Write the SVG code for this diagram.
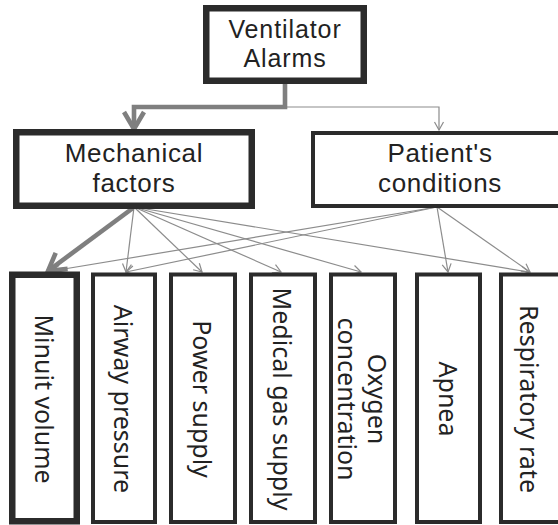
<svg xmlns="http://www.w3.org/2000/svg" width="558" height="525" viewBox="0 0 558 525">
  <style>
    .box { fill: #ffffff; stroke: #2b2b2b; }
    .heavy { stroke-width: 6.5; }
    .mid { stroke-width: 4; }
    .label { font-family: "Noto Sans", "Liberation Sans", sans-serif; fill: #222222; text-anchor: middle; }
    .head { font-family: "Liberation Sans", Arial, sans-serif; }
    .top { font-size: 25px; letter-spacing: 0.9px; }
    .mid-label { font-size: 26px; letter-spacing: 0.7px; }
    .vert { font-size: 25px; dominant-baseline: central; }
    .link { fill: none; stroke: #8c8c8c; stroke-width: 1.2; }
    .link-main { fill: none; stroke: #7f7f7f; stroke-width: 4.6; stroke-linejoin: miter; }
  </style>
  <defs>
    <marker id="arrow-thin" viewBox="-10 -6 12 12" refX="0" refY="0" markerWidth="12" markerHeight="12" markerUnits="userSpaceOnUse" orient="auto">
      <path d="M-8,-4.5 L0,0 L-8,4.5" fill="none" stroke="#8c8c8c" stroke-width="1.2"/>
    </marker>
    <marker id="arrow-thick" viewBox="-24 -14 28 28" refX="0" refY="0" markerWidth="28" markerHeight="28" markerUnits="userSpaceOnUse" orient="auto">
      <path d="M-17,-10 L0,0 L-17,10" fill="none" stroke="#7f7f7f" stroke-width="4.6"/>
    </marker>
  </defs>

  <rect width="558" height="525" fill="#ffffff"/>

  <!-- connectors -->
  <g id="connectors">
    <path class="link" d="M285,107 H439 V130" marker-end="url(#arrow-thin)"/>
    <path class="link-main" d="M285,83 V107 H134 V129" marker-end="url(#arrow-thick)"/>

    <!-- from Patient's conditions -->
    <line class="link" x1="437" y1="207" x2="52" y2="271" marker-end="url(#arrow-thin)"/>
    <line class="link" x1="437" y1="207" x2="126" y2="272" marker-end="url(#arrow-thin)"/>
    <line class="link" x1="437" y1="207" x2="448" y2="272" marker-end="url(#arrow-thin)"/>
    <line class="link" x1="437" y1="207" x2="530" y2="272" marker-end="url(#arrow-thin)"/>

    <!-- from Mechanical factors -->
    <line class="link" x1="134" y1="207" x2="126" y2="272" marker-end="url(#arrow-thin)"/>
    <line class="link" x1="134" y1="207" x2="202" y2="272" marker-end="url(#arrow-thin)"/>
    <line class="link" x1="134" y1="207" x2="281" y2="272" marker-end="url(#arrow-thin)"/>
    <line class="link" x1="134" y1="207" x2="361" y2="272" marker-end="url(#arrow-thin)"/>
    <line class="link" x1="134" y1="207" x2="529" y2="272" marker-end="url(#arrow-thin)"/>
    <line class="link-main" x1="133" y1="208" x2="48" y2="271" marker-end="url(#arrow-thick)"/>
  </g>

  <g id="ventilator-alarms">
    <rect class="box heavy" x="206.25" y="8.25" width="157.5" height="72.5"/>
    <text class="label head top"><tspan x="285" y="37.5">Ventilator</tspan><tspan x="285" dy="29.5">Alarms</tspan></text>
  </g>

  <g id="mechanical-factors">
    <rect class="box heavy" x="16.25" y="132.25" width="235.5" height="73.5"/>
    <text class="label head mid-label"><tspan x="134" y="161.5">Mechanical</tspan><tspan x="134" dy="30.5">factors</tspan></text>
  </g>

  <g id="patients-conditions">
    <rect class="box mid" x="313" y="133" width="254" height="73"/>
    <text class="label head mid-label"><tspan x="440" y="162">Patient's</tspan><tspan x="440" dy="30">conditions</tspan></text>
  </g>

  <g id="minuit-volume">
    <rect class="box heavy" x="12.25" y="274.75" width="64.5" height="246.5"/>
    <text class="label vert" x="45" y="399" transform="rotate(90 45 399)">Minuit volume</text>
  </g>

  <g id="airway-pressure">
    <rect class="box mid" x="93" y="274.5" width="62" height="247.5"/>
    <text class="label vert" x="124" y="399" transform="rotate(90 124 399)">Airway pressure</text>
  </g>

  <g id="power-supply">
    <rect class="box mid" x="171" y="274.5" width="64" height="247.5"/>
    <text class="label vert" x="203" y="399" transform="rotate(90 203 399)">Power supply</text>
  </g>

  <g id="medical-gas-supply">
    <rect class="box mid" x="251" y="274.5" width="64" height="247.5"/>
    <text class="label vert" x="283" y="399" transform="rotate(90 283 399)">Medical gas supply</text>
  </g>

  <g id="oxygen-concentration">
    <rect class="box mid" x="331" y="274.5" width="64" height="247.5"/>
    <text class="label vert" transform="rotate(90)"><tspan x="399" y="-378">Oxygen</tspan><tspan x="399" dy="30">concentration</tspan></text>
  </g>

  <g id="apnea">
    <rect class="box mid" x="417" y="274.5" width="63" height="247.5"/>
    <text class="label vert" x="448.5" y="399" transform="rotate(90 448.5 399)">Apnea</text>
  </g>

  <g id="respiratory-rate">
    <rect class="box mid" x="501" y="274.5" width="63" height="247.5"/>
    <text class="label vert" x="530" y="399" transform="rotate(90 530 399)">Respiratory rate</text>
  </g>
</svg>
